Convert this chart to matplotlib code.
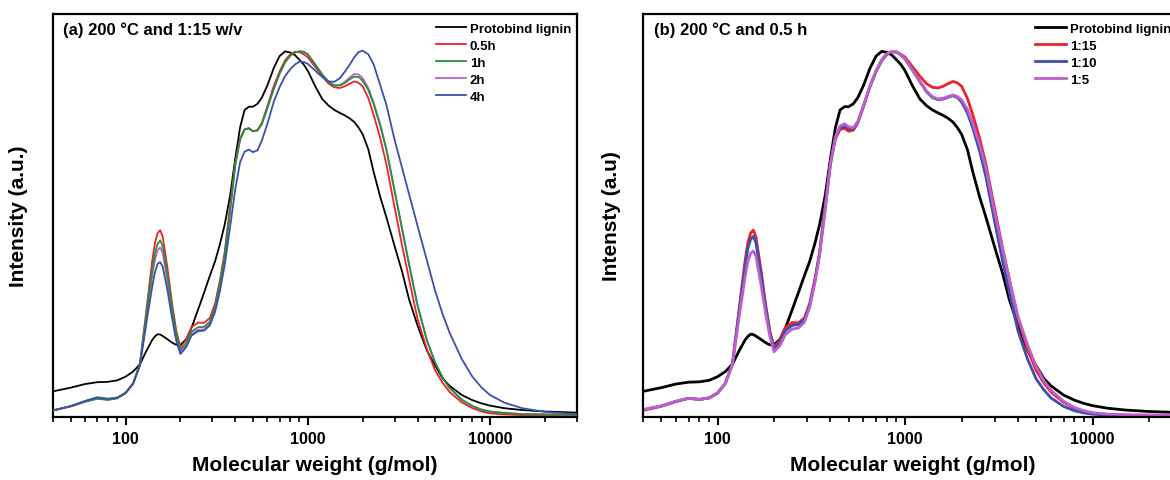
import matplotlib
matplotlib.use('Agg')
import matplotlib.pyplot as plt
from matplotlib.ticker import LogLocator, NullFormatter

plt.rcParams['font.family'] = ['Liberation Sans', 'DejaVu Sans']
plt.rcParams['font.weight'] = 'bold'

# --- data (normalised intensity) ---
mw = [40, 50, 60, 70, 80, 90, 100, 110, 120, 130, 140, 145, 150, 155, 160, 170, 180, 190,
      200, 215, 230, 250, 270, 290, 310, 330, 350, 375, 400, 425, 450, 475, 500, 530, 560,
      600, 650, 700, 750, 800, 850, 900, 950, 1000, 1100, 1200, 1300, 1400, 1500, 1600,
      1700, 1800, 1900, 2000, 2150, 2300, 2500, 2700, 3000, 3300, 3600, 4000, 4500, 5000,
      5500, 6000, 7000, 8000, 9000, 10000, 12000, 15000, 20000, 30000]

protobind = [0.070, 0.080, 0.090, 0.095, 0.096, 0.100, 0.110, 0.124, 0.144, 0.180, 0.210, 0.220,
             0.226, 0.225, 0.221, 0.212, 0.203, 0.197, 0.197, 0.212, 0.243, 0.293, 0.340, 0.385,
             0.425, 0.473, 0.525, 0.605, 0.705, 0.790, 0.838, 0.847, 0.847, 0.855, 0.872, 0.905,
             0.952, 0.985, 0.998, 0.995, 0.988, 0.975, 0.962, 0.945, 0.902, 0.868, 0.850, 0.838,
             0.830, 0.823, 0.815, 0.805, 0.790, 0.772, 0.730, 0.668, 0.600, 0.545, 0.465, 0.395,
             0.320, 0.250, 0.182, 0.140, 0.105, 0.085, 0.060, 0.046, 0.037, 0.031, 0.024, 0.019,
             0.015, 0.012]

# 200 C, 0.5 h, 1:15 (same run in both panels)
h05 = [0.018, 0.029, 0.042, 0.051, 0.048, 0.052, 0.066, 0.092, 0.145, 0.290, 0.425, 0.475,
       0.502, 0.510, 0.492, 0.405, 0.310, 0.235, 0.190, 0.210, 0.245, 0.258, 0.257, 0.270,
       0.310, 0.375, 0.450, 0.578, 0.695, 0.760, 0.785, 0.788, 0.780, 0.783, 0.803, 0.848,
       0.903, 0.943, 0.973, 0.990, 0.997, 0.996, 0.990, 0.982, 0.955, 0.930, 0.910, 0.900,
       0.898, 0.903, 0.910, 0.916, 0.912, 0.903, 0.870, 0.824, 0.760, 0.690, 0.570, 0.465,
       0.375, 0.268, 0.185, 0.127, 0.093, 0.068, 0.040, 0.024, 0.015, 0.010, 0.007, 0.005,
       0.005, 0.005]

h1 = [0.018, 0.029, 0.042, 0.050, 0.047, 0.051, 0.065, 0.091, 0.145, 0.280, 0.400, 0.447,
      0.473, 0.482, 0.466, 0.385, 0.297, 0.226, 0.183, 0.200, 0.233, 0.245, 0.246, 0.260,
      0.300, 0.365, 0.440, 0.565, 0.688, 0.757, 0.785, 0.788, 0.780, 0.782, 0.800, 0.843,
      0.895, 0.937, 0.968, 0.986, 0.995, 0.998, 0.997, 0.990, 0.962, 0.935, 0.915, 0.905,
      0.905, 0.912, 0.922, 0.929, 0.928, 0.918, 0.892, 0.853, 0.795, 0.730, 0.615, 0.510,
      0.415, 0.305, 0.210, 0.148, 0.107, 0.079, 0.047, 0.030, 0.020, 0.015, 0.011, 0.008,
      0.007, 0.006]

h2 = [0.018, 0.029, 0.042, 0.050, 0.047, 0.051, 0.065, 0.091, 0.143, 0.272, 0.385, 0.430,
      0.455, 0.463, 0.448, 0.370, 0.287, 0.220, 0.176, 0.194, 0.226, 0.238, 0.239, 0.255,
      0.298, 0.365, 0.440, 0.565, 0.688, 0.757, 0.785, 0.788, 0.780, 0.782, 0.800, 0.843,
      0.895, 0.937, 0.968, 0.986, 0.995, 0.998, 0.997, 0.990, 0.962, 0.935, 0.915, 0.905,
      0.906, 0.915, 0.927, 0.936, 0.935, 0.925, 0.898, 0.858, 0.797, 0.731, 0.616, 0.511,
      0.415, 0.305, 0.210, 0.148, 0.107, 0.079, 0.047, 0.030, 0.020, 0.015, 0.011, 0.008,
      0.007, 0.006]

h4 = [0.018, 0.030, 0.044, 0.054, 0.050, 0.053, 0.066, 0.090, 0.140, 0.255, 0.355, 0.395,
      0.418, 0.423, 0.410, 0.345, 0.270, 0.207, 0.172, 0.190, 0.222, 0.234, 0.236, 0.250,
      0.287, 0.345, 0.415, 0.520, 0.622, 0.695, 0.724, 0.730, 0.723, 0.728, 0.755, 0.800,
      0.860, 0.900, 0.930, 0.949, 0.962, 0.970, 0.969, 0.964, 0.945, 0.928, 0.916, 0.915,
      0.925, 0.943, 0.962, 0.982, 0.996, 1.000, 0.990, 0.962, 0.905, 0.852, 0.755, 0.678,
      0.607, 0.522, 0.428, 0.344, 0.280, 0.230, 0.158, 0.110, 0.080, 0.060, 0.039, 0.024,
      0.014, 0.008]

r110 = [0.020, 0.030, 0.043, 0.051, 0.048, 0.052, 0.065, 0.092, 0.145, 0.285, 0.410, 0.460,
        0.485, 0.493, 0.476, 0.393, 0.302, 0.229, 0.186, 0.203, 0.236, 0.250, 0.252, 0.265,
        0.305, 0.370, 0.445, 0.572, 0.692, 0.762, 0.790, 0.795, 0.787, 0.787, 0.805, 0.848,
        0.902, 0.943, 0.973, 0.990, 0.997, 0.996, 0.988, 0.977, 0.945, 0.915, 0.888, 0.872,
        0.866, 0.868, 0.873, 0.877, 0.872, 0.860, 0.830, 0.788, 0.725, 0.655, 0.535, 0.430,
        0.340, 0.235, 0.158, 0.104, 0.074, 0.052, 0.029, 0.017, 0.011, 0.008, 0.005, 0.004,
        0.003, 0.003]

r15 = [0.020, 0.030, 0.043, 0.051, 0.048, 0.052, 0.065, 0.092, 0.143, 0.270, 0.380, 0.425,
       0.447, 0.453, 0.440, 0.365, 0.285, 0.220, 0.178, 0.195, 0.225, 0.240, 0.243, 0.258,
       0.300, 0.365, 0.442, 0.568, 0.690, 0.765, 0.795, 0.800, 0.792, 0.790, 0.807, 0.850,
       0.903, 0.945, 0.975, 0.992, 0.998, 0.997, 0.989, 0.978, 0.946, 0.917, 0.890, 0.874,
       0.868, 0.870, 0.875, 0.879, 0.875, 0.866, 0.840, 0.800, 0.742, 0.680, 0.560, 0.460,
       0.375, 0.275, 0.197, 0.138, 0.099, 0.073, 0.043, 0.026, 0.017, 0.012, 0.008, 0.006,
       0.005, 0.005]

RED = '#ec2227'
GREEN = '#23923d'
PURPLE = '#bf5fcc'
BLUE = '#3b4fae'

fig = plt.figure(figsize=(11.7, 4.81), dpi=100)
ax_a = fig.add_axes([53 / 1170, 63 / 481, 524 / 1170, 403 / 481])
ax_b = fig.add_axes([643 / 1170, 63 / 481, 539 / 1170, 403 / 481])


def style(ax, title, ylabel, ylab_x, leg_x):
    ax.set_xscale('log')
    ax.set_xlim(40, 30000)
    ax.set_ylim(0, 1.1)
    ax.set_yticks([])
    ax.set_xticks([100, 1000, 10000])
    ax.set_xticklabels(['100', '1000', '10000'])
    ax.xaxis.set_minor_locator(LogLocator(base=10, subs=range(2, 10)))
    ax.xaxis.set_minor_formatter(NullFormatter())
    ax.tick_params(axis='x', which='major', direction='out', length=6, width=1.5,
                   labelsize=11.5, pad=4)
    ax.tick_params(axis='x', which='minor', direction='out', length=3.5, width=1.2)
    for s in ax.spines.values():
        s.set_linewidth(1.6)
    ax.set_xlabel('Molecular weight (g/mol)', fontsize=15, fontweight='bold')
    ax.xaxis.set_label_coords(0.5, -0.095)
    ax.set_ylabel(ylabel, fontsize=15, fontweight='bold')
    ax.yaxis.set_label_coords(ylab_x, 0.5)
    ax.text(0.02, 0.962, title, transform=ax.transAxes, fontsize=12,
            fontweight='bold', va='center', ha='left')
    ax.legend(loc='upper left', bbox_to_anchor=(leg_x, 0.978), frameon=False,
              fontsize=9.5, handlelength=2.3, handletextpad=0.3, labelspacing=0.36,
              borderaxespad=0, borderpad=0)


# (a) reaction time
ax_a.plot(mw, protobind, color='black', lw=1.3, label='Protobind lignin', zorder=3)
ax_a.plot(mw, h05, color=RED, lw=1.3, label='0.5h', zorder=3)
ax_a.plot(mw, h1, color=GREEN, lw=1.3, label='1h', zorder=3)
ax_a.plot(mw, h2, color=PURPLE, lw=1.3, label='2h', zorder=2)
ax_a.plot(mw, h4, color=BLUE, lw=1.3, label='4h', zorder=3)
style(ax_a, '(a) 200 °C and 1:15 w/v', 'Intensity (a.u.)', -0.047, 0.73)

# (b) solid/liquid ratio
ax_b.plot(mw, protobind, color='black', lw=2.0, label='Protobind lignin')
ax_b.plot(mw, h05, color=RED, lw=2.0, label='1:15')
ax_b.plot(mw, r110, color=BLUE, lw=2.0, label='1:10')
ax_b.plot(mw, r15, color=PURPLE, lw=2.0, label='1:5')
style(ax_b, '(b) 200 °C and 0.5 h', 'Intensty (a.u)', -0.041, 0.728)

fig.savefig('out.png', dpi=100)
